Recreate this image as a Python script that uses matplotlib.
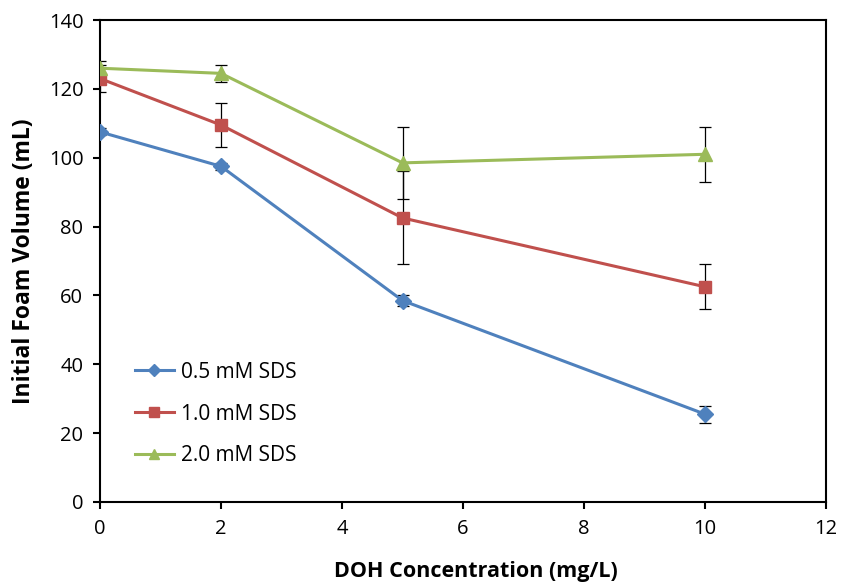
import numpy as np
import matplotlib
matplotlib.use('Agg')
from matplotlib import pyplot as plt

# DOH concentration (mg/L) and initial foam volume (mL) for each SDS level
doh_conc = [0, 2, 5, 10]
sds_labels = ['0.5 mM SDS', '1.0 mM SDS', '2.0 mM SDS']
foam_05 = [107.5, 97.5, 58.5, 25.5]
foam_10 = [123.0, 109.5, 82.5, 62.5]
foam_20 = [126.0, 124.5, 98.5, 101.0]
err_05 = [1.0, 1.0, 1.5, 2.5]
err_10 = [4.0, 6.5, 13.5, 6.5]
err_20 = [2.0, 2.5, 10.5, 8.0]

plt.rcParams['font.family'] = ['Open Sans', 'DejaVu Sans']

fig = plt.figure(figsize=(8.43, 5.85), dpi=100)
ax = fig.add_axes([0.1186, 0.1419, 0.8614, 0.8239])

series = [
    (foam_05, err_05, '#4F81BD', 'D', 8),
    (foam_10, err_10, '#C0504D', 's', 9),
    (foam_20, err_20, '#9BBB59', '^', 10),
]
for (vals, errs, col, mk, ms), lab in zip(series, sds_labels):
    ax.errorbar(doh_conc, vals, yerr=errs, fmt='none', ecolor='black',
                elinewidth=0.9, capsize=4, capthick=0.9, zorder=2)
    ax.plot(doh_conc, vals, color=col, lw=2.2, marker=mk, markersize=ms,
            markeredgecolor=col, label=lab, zorder=3)

ax.set_xlim(0, 12)
ax.set_ylim(0, 140)
ax.set_xticks(np.arange(0, 13, 2))
ax.set_yticks(np.arange(0, 141, 20))
ax.tick_params(direction='out', length=5, width=1.5, labelsize=14.5, pad=7)
for sp in ax.spines.values():
    sp.set_linewidth(1.5)

ax.set_xlabel('DOH Concentration (mg/L)', fontsize=15.5, fontweight='bold')
ax.xaxis.set_label_coords(0.518, -0.122)
ax.set_ylabel('Initial Foam Volume (mL)', fontsize=16.5, fontweight='bold', labelpad=9)

ax.legend(loc='lower left', bbox_to_anchor=(0.022, 0.035), frameon=False,
          fontsize=15, handlelength=1.9, handletextpad=0.3,
          labelspacing=1.0, markerscale=0.75)

fig.savefig('out.png', dpi=100)
